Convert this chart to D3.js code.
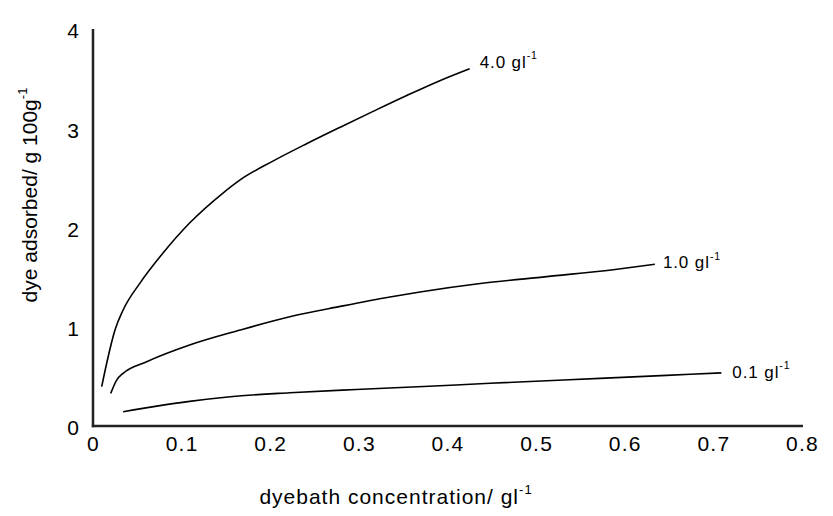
<!DOCTYPE html>
<html>
<head>
<meta charset="utf-8">
<script src="https://cdn.jsdelivr.net/npm/d3@7/dist/d3.min.js"></script>
<style>
  html, body { margin: 0; padding: 0; background: #fff; }
  svg { display: block; font-family: "Liberation Sans", Arial, sans-serif; }
</style>
</head>
<body>
<svg id="chart" width="833" height="516"></svg>
<script>
// ---- data ----
const xTicks = [0, 0.1, 0.2, 0.3, 0.4, 0.5, 0.6, 0.7, 0.8];
const xTickLabels = ["0", "0.1", "0.2", "0.3", "0.4", "0.5", "0.6", "0.7", "0.8"];
const yTicks = [0, 1, 2, 3, 4];
const yTickLabels = ["0", "1", "2", "3", "4"];

const seriesNames = ["4.0", "1.0", "0.1"];

const conc40 = [0.0098, 0.0155, 0.0248, 0.034, 0.053, 0.079, 0.109, 0.147, 0.166, 0.203, 0.241, 0.279, 0.316, 0.354, 0.392, 0.425];
const dye40  = [0.396, 0.635, 0.967, 1.169, 1.44, 1.743, 2.045, 2.35, 2.48, 2.669, 2.844, 3.011, 3.17, 3.33, 3.482, 3.60];

const conc10 = [0.020, 0.0267, 0.034, 0.0606, 0.109, 0.166, 0.222, 0.279, 0.335, 0.369, 0.437, 0.512, 0.587, 0.634];
const dye10  = [0.329, 0.463, 0.531, 0.648, 0.816, 0.967, 1.101, 1.205, 1.30, 1.35, 1.435, 1.505, 1.575, 1.629];

const conc01 = [0.034, 0.072, 0.109, 0.155, 0.222, 0.297, 0.373, 0.448, 0.572, 0.647, 0.709];
const dye01  = [0.144, 0.20, 0.248, 0.295, 0.335, 0.368, 0.398, 0.43, 0.48, 0.51, 0.535];

const xTitle = "dyebath concentration/ gl";
const yTitle = "dye adsorbed/ g 100g";
const unitSup = "-1";
const labelUnit = " gl";

// ---- layout / style ----
const svg = d3.select("#chart");
const x = d3.scaleLinear().domain([0, 0.8]).range([93, 802]);
const y = d3.scaleLinear().domain([0, 4]).range([426, 29]);
const fontTick = 21, fontTitle = 21, fontLabel = 17;
const labelOffsets = [{dx: 10, dy: -7}, {dx: 8, dy: -2}, {dx: 11, dy: -1}];

// axes lines
svg.append("line").attr("x1", x(0)).attr("x2", x(0)).attr("y1", y(0) + 1.2).attr("y2", y(4))
  .attr("stroke", "#222").attr("stroke-width", 2.5);
svg.append("line").attr("x1", x(0) - 1.2).attr("x2", x(0.8) + 1).attr("y1", y(0)).attr("y2", y(0))
  .attr("stroke", "#222").attr("stroke-width", 2.5);

// x tick labels via axis (no tick marks)
const xAxis = d3.axisBottom(x).tickValues(xTicks)
  .tickFormat((d, i) => xTickLabels[i]).tickSize(0).tickPadding(0);
const gx = svg.append("g").attr("transform", `translate(0, ${y(0)})`).call(xAxis);
gx.select(".domain").remove();
gx.selectAll("text").attr("dy", null).attr("y", 25)
  .attr("font-size", fontTick).attr("letter-spacing", "1.2px")
  .attr("font-family", "Liberation Sans, Arial, sans-serif").attr("fill", "#000");

const yAxis = d3.axisLeft(y).tickValues(yTicks)
  .tickFormat((d, i) => yTickLabels[i]).tickSize(0).tickPadding(0);
const gy = svg.append("g").attr("transform", `translate(${x(0)}, 0)`).call(yAxis);
gy.select(".domain").remove();
gy.selectAll("text").attr("x", -14).attr("dy", "0.42em")
  .attr("font-size", fontTick).attr("font-family", "Liberation Sans, Arial, sans-serif").attr("fill", "#000");

// curves
const series = [
  {name: seriesNames[0], xs: conc40, ys: dye40},
  {name: seriesNames[1], xs: conc10, ys: dye10},
  {name: seriesNames[2], xs: conc01, ys: dye01}
];
const line = d3.line().x(d => x(d[0])).y(d => y(d[1])).curve(d3.curveMonotoneX);

series.forEach((s, i) => {
  const pts = s.xs.map((v, j) => [v, s.ys[j]]);
  svg.append("path").attr("d", line(pts)).attr("fill", "none")
    .attr("stroke", "#000").attr("stroke-width", 1.6);
  const last = pts[pts.length - 1];
  const t = svg.append("text")
    .attr("x", x(last[0]) + labelOffsets[i].dx)
    .attr("y", y(last[1]) + labelOffsets[i].dy)
    .attr("dy", "0.35em").attr("letter-spacing", "0.9px")
    .attr("font-size", fontLabel).attr("fill", "#000");
  t.append("tspan").text(s.name + labelUnit);
  t.append("tspan").attr("font-size", fontLabel * 0.62).attr("dy", "-0.8em").text(unitSup);
});

// axis titles
const xt = svg.append("text").attr("x", 396).attr("y", 504).attr("text-anchor", "middle")
  .attr("letter-spacing", "1px")
  .attr("font-size", fontTitle).attr("fill", "#000");
xt.append("tspan").text(xTitle);
xt.append("tspan").attr("font-size", fontTitle * 0.62).attr("dy", "-0.75em").text(unitSup);

const yt = svg.append("text").attr("transform", "translate(37, 195) rotate(-90)")
  .attr("text-anchor", "middle").attr("font-size", fontTitle).attr("fill", "#000");
yt.append("tspan").text(yTitle);
yt.append("tspan").attr("font-size", fontTitle * 0.62).attr("dy", "-0.75em").text(unitSup);
</script>
</body>
</html>
